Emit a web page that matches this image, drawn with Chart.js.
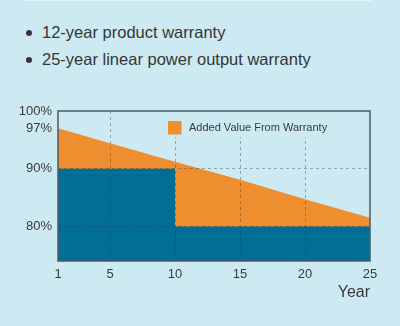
<!DOCTYPE html>
<html>
<head>
<meta charset="utf-8">
<script src="https://cdn.jsdelivr.net/npm/chart.js@4"></script>
<style>
  html, body { margin: 0; padding: 0; }
  body { width: 400px; height: 326px; background: #cde9f1; position: relative; overflow: hidden;
         font-family: "Liberation Sans", Arial, sans-serif; }
  #topline { position: absolute; left: 25px; top: 0; width: 347px; height: 1px; background: #e3f3f8; }
  ul { position: absolute; left: 0; top: 19px; margin: 0; padding: 0 0 0 42px; list-style: none; }
  li { position: relative; font-size: 16.5px; color: #363636; line-height: 27px; }
  li::before { content: ''; position: absolute; left: -16px; top: 11px; width: 6px; height: 6px;
               border-radius: 50%; background: #363636; }
  canvas { position: absolute; left: 0; top: 0; }
</style>
</head>
<body>
<div id="topline"></div>
<ul>
  <li>12-year product warranty</li>
  <li>25-year linear power output warranty</li>
</ul>
<canvas id="chart" width="400" height="326"></canvas>
<script>
// values
const years = [1, 5, 10, 15, 20, 25];
const warrantyYears = [1, 5, 10, 15, 20, 25];
const warrantyValues = [97, 94.4, 91.2, 88.1, 84.7, 81.5];   // linear power output warranty
const baseYears = [1, 10, 25];
const baseValues = [90, 80, 80];                              // step warranty
const yTicks = [80, 90, 97, 100];
const gridValues = [80, 90, 5, 10, 15, 20];
const legendLabel = 'Added Value From Warranty';

const BLUE = '#006e95';
const ORANGE = '#ee8e2e';
const BG = '#cde9f1';
const GRID = 'rgba(35, 55, 65, 0.38)';
const FONT = '"Liberation Sans", Arial, sans-serif';

// legend sits inside the plot area, with its own backing
const insideLegend = {
    id: 'insideLegend',
    afterDraw(chart) {
        const ctx = chart.ctx;
        const ds = chart.data.datasets[1];
        ctx.save();
        ctx.fillStyle = BG;
        ctx.fillRect(163, 112, 180, 25);
        ctx.fillStyle = ds.backgroundColor;
        ctx.fillRect(168, 121, 13.5, 13.5);
        ctx.fillStyle = '#3a3a3a';
        ctx.font = '11px ' + FONT;
        ctx.textBaseline = 'middle';
        ctx.fillText(ds.label, 189, 128);
        ctx.restore();
    }
};

// box round the plot area
const frame = {
    id: 'frame',
    afterDraw(chart) {
        const a = chart.chartArea;
        const ctx = chart.ctx;
        ctx.save();
        ctx.strokeStyle = '#4c5c63';
        ctx.lineWidth = 1.5;
        ctx.strokeRect(a.left, a.top, a.right - a.left, a.bottom - a.top);
        ctx.restore();
    }
};

new Chart(document.getElementById('chart'), {
    type: 'line',
    data: {
        datasets: [
            {
                label: 'Warranty',
                data: baseYears.map((x, i) => ({ x: x, y: baseValues[i] })),
                stepped: 'before',
                borderWidth: 0,
                pointRadius: 0,
                backgroundColor: BLUE,
                fill: 'start'
            },
            {
                label: legendLabel,
                data: warrantyYears.map((x, i) => ({ x: x, y: warrantyValues[i] })),
                borderWidth: 0,
                pointRadius: 0,
                backgroundColor: ORANGE,
                fill: 'start'
            }
        ]
    },
    options: {
        responsive: false,
        animation: false,
        layout: { padding: { top: 111, right: 30, left: 0, bottom: 0 } },
        plugins: { legend: { display: false }, tooltip: { enabled: false } },
        scales: {
            x: {
                type: 'linear',
                min: 1,
                max: 25,
                afterFit: (s) => { s.height = 65; },
                afterBuildTicks: (s) => { s.ticks = years.map(v => ({ value: v })); },
                border: { display: false, dash: [3, 3] },
                grid: {
                    z: 1,
                    drawTicks: false,
                    color: (c) => gridValues.includes(c.tick && c.tick.value) ? GRID : 'transparent'
                },
                ticks: { padding: 6, color: '#3a3a3a', font: { family: FONT, size: 13 } },
                title: {
                    display: true,
                    text: 'Year',
                    align: 'end',
                    color: '#3a3a3a',
                    font: { family: FONT, size: 16 },
                    padding: { top: 24, bottom: 24 }
                }
            },
            y: {
                min: 74,
                max: 100,
                afterFit: (s) => { s.width = 58; },
                afterBuildTicks: (s) => { s.ticks = yTicks.map(v => ({ value: v })); },
                border: { display: false, dash: [3, 3] },
                grid: {
                    z: 1,
                    drawTicks: false,
                    color: (c) => (c.tick && (c.tick.value === 80 || c.tick.value === 90)) ? GRID : 'transparent'
                },
                ticks: {
                    padding: 6,
                    color: '#3a3a3a',
                    font: { family: FONT, size: 13 },
                    callback: (v) => v + '%'
                }
            }
        }
    },
    plugins: [insideLegend, frame]
});
</script>
</body>
</html>
